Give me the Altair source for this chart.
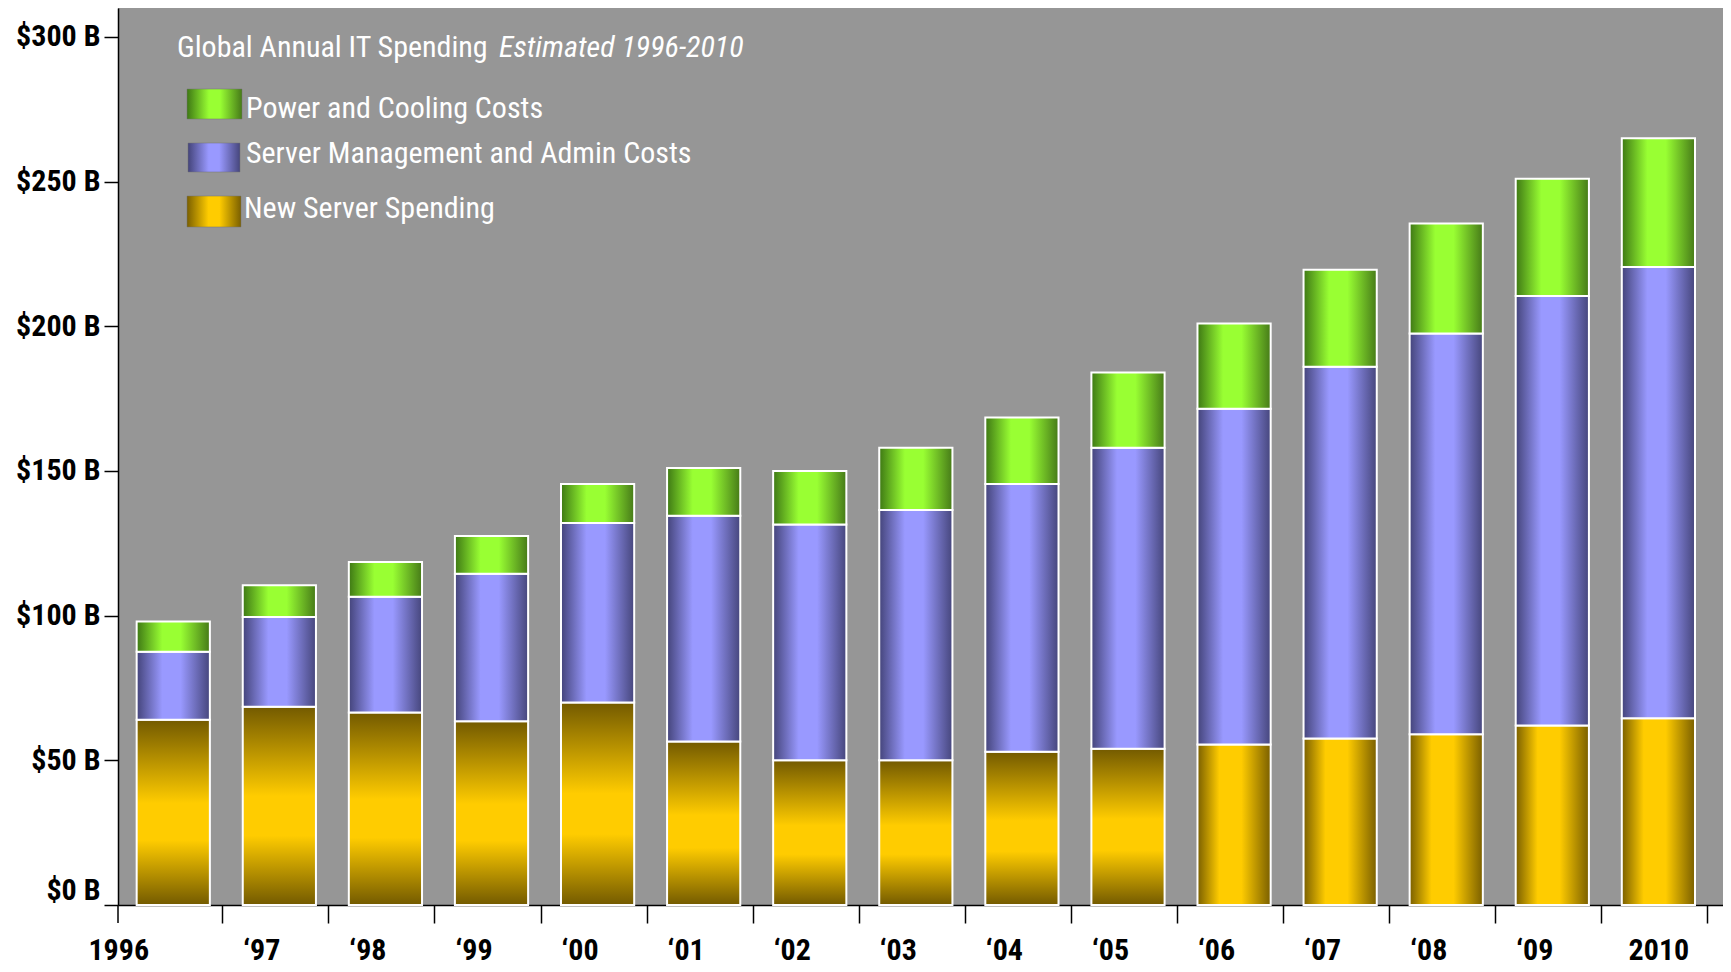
import altair as alt
import pandas as pd

# ---- data ----
year_labels = ["1996", "\u201897", "\u201898", "\u201899", "\u201800", "\u201801", "\u201802",
               "\u201803", "\u201804", "\u201805", "\u201806", "\u201807", "\u201808", "\u201809", "2010"]
new_server = [64, 68.5, 66.5, 63.5, 70, 56.5, 50, 50, 53, 54, 55.5, 57.5, 59, 62, 64.5]
server_mgmt = [23.5, 31, 40, 51, 62, 78, 81.5, 86.5, 92.5, 104, 116, 128.5, 138.5, 148.5, 156]
power_cooling = [10.5, 11, 12, 13, 13.5, 16.5, 18.5, 21.5, 23, 26, 29.5, 33.5, 38, 40.5, 44.5]
y_ticks = [0, 50, 100, 150, 200, 250, 300]

series_names = ["New Server Spending", "Server Management and Admin Costs", "Power and Cooling Costs"]
title_main = "Global Annual IT Spending"
title_italic = "Estimated 1996-2010"

# ---- build long table with stacked extents ----
rows = []
for i, lab in enumerate(year_labels):
    base = 0.0
    for name, vals in zip(series_names, [new_server, server_mgmt, power_cooling]):
        rows.append({"label": lab, "idx": i, "series": name, "start": base, "end": base + vals[i]})
        base += vals[i]
df = pd.DataFrame(rows)

FONT_B = "Roboto Condensed, Liberation Sans Narrow, Roboto, sans-serif"
FONT = "Roboto Condensed, Liberation Sans Narrow, Roboto, sans-serif"


def hgrad(dark_l, light, dark_r, a=0.35, b=0.6):
    return {"gradient": "linear", "x1": 0, "y1": 0, "x2": 1, "y2": 0,
            "stops": [{"offset": 0, "color": dark_l}, {"offset": a, "color": light},
                      {"offset": b, "color": light}, {"offset": 1, "color": dark_r}]}


def vgrad(dark_t, light, dark_b, a=0.45, b=0.65):
    return {"gradient": "linear", "x1": 0, "y1": 0, "x2": 0, "y2": 1,
            "stops": [{"offset": 0, "color": dark_t}, {"offset": a, "color": light},
                      {"offset": b, "color": light}, {"offset": 1, "color": dark_b}]}


green = hgrad("#3e7814", "#99ff33", "#467a18")
purple = hgrad("#44447a", "#9999ff", "#46467c")
gold_h = hgrad("#7a5f00", "#ffcc00", "#7a5f00", 0.3, 0.6)
gold_v = vgrad("#735a00", "#ffcc00", "#735a00")

x_enc = alt.X(
    "label:N", sort=year_labels,
    scale=alt.Scale(paddingInner=0.31, paddingOuter=0.22, align=0.4),
    axis=alt.Axis(
        title=None, labelAngle=0, tickOffset=49, tickSize=18, tickColor="black",
        tickWidth=1.5, domainColor="black", domainWidth=1.5,
        labelFont=FONT_B, labelFontWeight="bold", labelFontSize=30, labelColor="black",
        labelPadding=12,
        labelOffset={"condition": [{"test": "datum.value == '1996'", "value": -104},
                                   {"test": "datum.value == '2010'", "value": -49}],
                     "value": -67},
    ),
)
y_enc = alt.Y(
    "start:Q",
    scale=alt.Scale(domain=[0, 310], nice=False, zero=True),
    axis=alt.Axis(
        title=None, values=y_ticks, grid=False, labelExpr="'$' + datum.value + ' B'",
        tickSize=14, tickColor="black", tickWidth=1.5, domainColor="black", domainWidth=1.5,
        labelFont=FONT_B, labelFontWeight="bold", labelFontSize=30, labelColor="black",
        labelPadding=4,
        labelBaseline={"condition": {"test": "datum.value == 0", "value": "bottom"}, "value": "middle"},
    ),
)

base = alt.Chart(df).encode(x=x_enc, y=y_enc, y2="end:Q")


def bars(fill, cond):
    return base.transform_filter(cond).mark_bar(fill=fill, stroke="white", strokeWidth=2)


layer_new_v = bars(gold_v, "datum.series == 'New Server Spending' && datum.idx <= 9")
layer_new_h = bars(gold_h, "datum.series == 'New Server Spending' && datum.idx >= 10")
layer_srv = bars(purple, "datum.series == 'Server Management and Admin Costs'")
layer_pwr = bars(green, "datum.series == 'Power and Cooling Costs'")

# ---- in-plot legend and decorations ----
leg = alt.Chart(pd.DataFrame({"a": [0]}))

first_tick = leg.mark_rule(color="black", strokeWidth=1.5).encode(
    x=alt.value(0), y=alt.value(897), y2=alt.value(915))


def swatch(fill, x0, x1, y0, y1):
    return leg.mark_rect(fill=fill, stroke="#707070", strokeWidth=0.5).encode(
        x=alt.value(x0), x2=alt.value(x1), y=alt.value(y0), y2=alt.value(y1))


def label(txt, x, y, size=30, style="normal"):
    return leg.mark_text(align="left", baseline="alphabetic", font=FONT, fontSize=size,
                         fontStyle=style, color="white").encode(
        x=alt.value(x), y=alt.value(y), text=alt.value(txt))


legend_layers = [
    label(title_main, 59, 49),
    label(title_italic, 381, 49, style="italic"),
    swatch(hgrad("#3e7814", "#99ff33", "#467a18", 0.4, 0.6), 69, 124, 81, 111),
    swatch(hgrad("#44447a", "#9999ff", "#46467c", 0.4, 0.6), 70, 122, 135, 164),
    swatch(hgrad("#7a5f00", "#ffcc00", "#7a5f00", 0.4, 0.6), 69, 123, 188, 219),
    label(series_names[2], 128, 110),
    label(series_names[1], 128, 155),
    label(series_names[0], 126, 210),
]

chart = alt.layer(layer_new_v, layer_new_h, layer_srv, layer_pwr, first_tick, *legend_layers).properties(
    width=1605, height=897,
    autosize=alt.AutoSizeParams(type="none"),
    padding={"left": 110, "top": 0, "right": 0, "bottom": 62},
    background="white",
).configure_view(fill="#969696", stroke=None)

chart.save("out.html", embed_options={"renderer": "svg", "actions": False})
